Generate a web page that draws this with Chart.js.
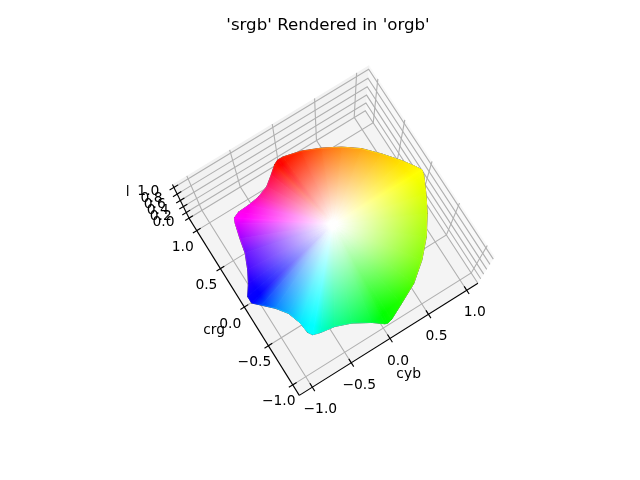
<!DOCTYPE html>
<html><head><meta charset="utf-8"><script src="https://cdn.jsdelivr.net/npm/chart.js@4"></script></head>
<body style="margin:0;background:#fff"><canvas id="c" width="640" height="480" style="display:block"></canvas>
<script>
const chartTitle = "'srgb' Rendered in 'orgb'";
const cybTicks = [-1, -0.5, 0, 0.5, 1];
const crgTicks = [-1, -0.5, 0, 0.5, 1];
const lTicks = [0, 0.2, 0.4, 0.6, 0.8, 1];
const cybLabels = ['\u22121.0', '\u22120.5', '0.0', '0.5', '1.0'];
const crgLabels = ['\u22121.0', '\u22120.5', '0.0', '0.5', '1.0'];
const lLabels = ['0.0', '0.2', '0.4', '0.6', '0.8', '1.0'];
const whitePoint = [-0.013, 0.008, 1];
// silhouette of the rendered gamut: values
const outlineCyb = [-0.09,-0.03,0.03,0.22,0.40,0.57,0.72,0.85,0.97,1.04,1.07,1.06,0.98,0.89,0.76,0.60,0.41,0.20,0.03,-0.02,-0.05,-0.16,-0.34,-0.51,-0.67,-0.75,-0.78,-0.79,-0.83,-0.91,-1.01,-1.08,-1.08,-1.00,-0.93,-0.86,-0.83,-0.79,-0.77,-0.70,-0.57,-0.43,-0.29,-0.18];
const outlineCrg = [1.06,1.10,1.08,1.01,0.89,0.76,0.61,0.43,0.24,0.11,0.03,-0.02,-0.19,-0.36,-0.55,-0.72,-0.87,-0.97,-1.05,-1.06,-1.05,-0.97,-0.87,-0.81,-0.79,-0.77,-0.72,-0.59,-0.42,-0.28,-0.14,-0.03,0.05,0.16,0.28,0.44,0.58,0.73,0.77,0.80,0.81,0.84,0.90,0.99];
const outlineL = [0.34,0.30,0.35,0.41,0.51,0.59,0.67,0.74,0.81,0.85,0.89,0.88,0.85,0.81,0.77,0.74,0.68,0.62,0.60,0.59,0.59,0.61,0.63,0.65,0.68,0.70,0.69,0.65,0.52,0.41,0.26,0.11,0.12,0.15,0.19,0.23,0.30,0.38,0.41,0.41,0.40,0.37,0.34,0.32];
const outlineColor = ['#ff1000','#ff0000','#ff1800','#ff3000','#ff5a00','#ff8000','#ffa000','#ffc000','#ffe000','#fff000','#ffff00','#f8ff00','#e0ff00','#c0ff00','#a0ff00','#80ff00','#50ff00','#20ff00','#08ff00','#00ff00','#00ff08','#00ff30','#00ff60','#00ff90','#00ffd0','#00ffff','#00fcff','#00e8ff','#00b0ff','#0080ff','#0040ff','#0000ff','#0800ff','#2000ff','#4000ff','#6000ff','#a000ff','#e000ff','#ff00ff','#ff00f0','#ff00e0','#ff00a0','#ff0060','#ff0030'];

// view of the 3-D box
const ELEV = 1.3897, AZIM = -2.1316, FOCAL = 1493.06, DIST = 8.0421, CX = 332.88, CY = 236.35;
const XL = -1.1668, XH = 1.1476, YL = -1.1338, YH = 1.1653, ZL = 0.0025, ZH = 1.0843;
const BX = 1.1905, BZ = 0.8929;
const FONT = "'DejaVu Sans'";
function project(x, y, z) {
  const wx = (x - XL) / (XH - XL) * BX - BX / 2, wy = (y - YL) / (YH - YL) * BX - BX / 2, wz = (z - ZL) / (ZH - ZL) * BZ - BZ / 2;
  const ce = Math.cos(ELEV), se = Math.sin(ELEV), ca = Math.cos(AZIM), sa = Math.sin(AZIM);
  const d = wx * ce * ca + wy * ce * sa + wz * se;
  const vx = -wx * sa + wy * ca;
  const vy = -wx * se * ca - wy * se * sa + wz * ce;
  const k = FOCAL / (DIST - d);
  return { x: CX + vx * k, y: CY - vy * k };
}
const poly = pts => pts.map(p => project(p[0], p[1], p[2]));
const base = { showLine: true, pointRadius: 0, pointHoverRadius: 0, tension: 0, fill: false, clip: false };
const datasets = [];
// panes
[
  { pts: [[XL,YL,ZL],[XH,YL,ZL],[XH,YH,ZL],[XL,YH,ZL],[XL,YL,ZL]], col: 'rgba(236,236,236,0.6)' },
  { pts: [[XL,YH,ZL],[XH,YH,ZL],[XH,YH,ZH],[XL,YH,ZH],[XL,YH,ZL]], col: 'rgba(230,230,230,0.5)' },
  { pts: [[XH,YL,ZL],[XH,YH,ZL],[XH,YH,ZH],[XH,YL,ZH],[XH,YL,ZL]], col: 'rgba(242,242,242,0.5)' }
].forEach(q => datasets.push({ ...base, data: poly(q.pts), fill: 'shape', backgroundColor: q.col, borderWidth: 0, order: 100 }));
// grid
const gridStyle = { ...base, borderColor: '#b0b0b0', borderWidth: 1.11, order: 90 };
cybTicks.forEach(t => datasets.push({ ...gridStyle, data: poly([[t,YL,ZL],[t,YH,ZL],[t,YH,ZH]]) }));
crgTicks.forEach(t => datasets.push({ ...gridStyle, data: poly([[XL,t,ZL],[XH,t,ZL],[XH,t,ZH]]) }));
lTicks.forEach(t => datasets.push({ ...gridStyle, data: poly([[XL,YH,t],[XH,YH,t],[XH,YL,t]]) }));

// gamut: white-to-black wedges (lightness), then the hue ring screened over them
const n = outlineCyb.length;
const ptsOutline = outlineCyb.map((v, i) => project(v, outlineCrg[i], outlineL[i]));
const wp = project(whitePoint[0], whitePoint[1], whitePoint[2]);
const px = (c, p) => [c.scales.x.getPixelForValue(p.x), c.scales.y.getPixelForValue(p.y)];
function wedgeFill(ctx, i) {
  const c = ctx.chart;
  if (!c.chartArea) return '#000';
  const [cx, cy] = px(c, wp);
  if (!isFinite(cx) || !isFinite(cy)) return '#000';
  // lightness reach is averaged over neighbouring wedges so the shading stays even
  let r = 0;
  for (let j = -4; j <= 5; j++) {
    const a = px(c, ptsOutline[(i + j + n) % n]);
    r += Math.hypot(a[0] - cx, a[1] - cy) / 10;
  }
  const g = c.ctx.createRadialGradient(cx, cy, 0, cx, cy, r);
  g.addColorStop(0, '#fff'); g.addColorStop(0.05, '#fff'); g.addColorStop(0.98, '#000'); g.addColorStop(1, '#000');
  return g;
}
for (let i = 0; i < n; i++) {
  const f = ctx => wedgeFill(ctx, i);
  datasets.push({ ...base, data: [wp, ptsOutline[i], ptsOutline[(i + 1) % n], wp], fill: 'shape', backgroundColor: f, borderColor: f, borderWidth: 0.8, order: 50, startBlend: i === 0 });
}
function hueFill(ctx) {
  const c = ctx.chart;
  if (!c.chartArea) return '#000';
  const [cx, cy] = px(c, wp);
  if (!isFinite(cx) || !isFinite(cy)) return '#000';
  const ang = ptsOutline.map(p => { const a = px(c, p); return Math.atan2(a[1] - cy, a[0] - cx); });
  const g = c.ctx.createConicGradient(ang[0], cx, cy);
  const tau = Math.PI * 2;
  ang.forEach((a, i) => g.addColorStop((((a - ang[0]) % tau + tau) % tau) / tau, outlineColor[i]));
  g.addColorStop(1, outlineColor[0]);
  return g;
}
datasets.push({ ...base, data: [...ptsOutline, ptsOutline[0]], fill: 'shape', backgroundColor: hueFill, borderColor: hueFill, borderWidth: 1, order: 40, endBlend: true });

// axis lines and ticks
const axisStyle = { ...base, borderColor: '#000', borderWidth: 1.11, order: 30 };
datasets.push({ ...axisStyle, data: poly([[XL,YL,ZL],[XH,YL,ZL]]) });
datasets.push({ ...axisStyle, data: poly([[XL,YL,ZL],[XL,YH,ZL]]) });
datasets.push({ ...axisStyle, data: poly([[XL,YH,ZL],[XL,YH,ZH]]) });
const T = 0.05;
cybTicks.forEach(t => datasets.push({ ...axisStyle, data: poly([[t,YL-T,ZL],[t,YL+T,ZL]]) }));
crgTicks.forEach(t => datasets.push({ ...axisStyle, data: poly([[XL-T,t,ZL],[XL+T,t,ZL]]) }));
lTicks.forEach(t => datasets.push({ ...axisStyle, data: poly([[XL-T,YH,t],[XL+T,YH,t]]) }));

const blendPlugin = { id: 'blend', afterDatasetDraw(chart, args) {
  const d = chart.data.datasets[args.index];
  if (d.startBlend) chart.ctx.globalCompositeOperation = 'screen';
  if (d.endBlend) chart.ctx.globalCompositeOperation = 'source-over';
} };
const textPlugin = { id: 'axisText', afterDraw(chart) {
  const ctx = chart.ctx, px2 = p => px(chart, p);
  ctx.save(); ctx.fillStyle = '#000'; ctx.textAlign = 'center'; ctx.textBaseline = 'middle';
  ctx.font = '13.89px ' + FONT;
  const put = (s, p, dx, dy) => { const a = px2(p); ctx.fillText(s, a[0] + dx, a[1] + dy); };
  cybTicks.forEach((t, i) => put(cybLabels[i], project(t, YL, ZL), 8, 22.5));
  crgTicks.forEach((t, i) => put(crgLabels[i], project(XL, t, ZL), -14, 17));
  lTicks.forEach((t, i) => put(lLabels[i], project(XL, YH, t), -25.5, 4));
  const mid = (a, b) => ({ x: (a.x + b.x) / 2, y: (a.y + b.y) / 2 });
  put('cyb', mid(project(XL,YL,ZL), project(XH,YL,ZL)), 20, 35);
  put('crg', mid(project(XL,YL,ZL), project(XL,YH,ZL)), -30, 24);
  put('l', mid(project(XL,YH,ZL), project(XL,YH,ZH)), -53, -9);
  ctx.restore();
} };
new Chart(document.getElementById('c'), {
  type: 'scatter',
  data: { datasets },
  plugins: [blendPlugin, textPlugin],
  options: {
    responsive: false, animation: false, devicePixelRatio: 1,
    layout: { padding: { left: 16, right: 0, top: 0, bottom: 0 } },
    scales: {
      x: { type: 'linear', min: 16, max: 640, display: false },
      y: { type: 'linear', min: 36, max: 480, reverse: true, display: false }
    },
    plugins: {
      legend: { display: false }, tooltip: { enabled: false },
      title: { display: true, text: chartTitle, color: '#000', font: { family: FONT, size: 16.67, weight: 'normal' }, padding: { top: 16, bottom: 0 } }
    }
  }
});
</script></body></html>
